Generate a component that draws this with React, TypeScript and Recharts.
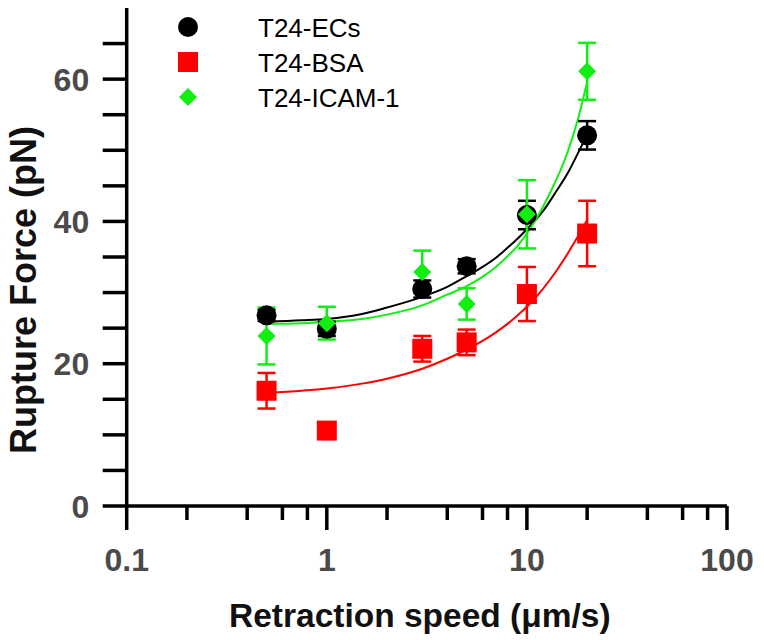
import React from 'react'
import {
  ComposedChart, Scatter, Line, XAxis, YAxis, ErrorBar, Legend,
} from 'recharts'

// ─── Datos ────────────────────────────────────────────────────────────────────

const SPEEDS = [0.5, 1, 3, 5, 10, 20]

const ECS_MEAN = [26.8, 24.9, 30.5, 33.7, 40.9, 52.1]
const ECS_ERR  = [0.8, 1.0, 1.2, 1.0, 2.0, 2.0]

const BSA_MEAN = [16.2, 10.6, 22.1, 23.0, 29.8, 38.3]
const BSA_ERR  = [2.5, 0.6, 1.8, 1.8, 3.8, 4.6]

const ICAM_MEAN = [23.9, 25.7, 32.9, 28.4, 41.0, 61.1]
const ICAM_ERR  = [4.0, 2.3, 3.0, 2.2, 4.8, 4.0]

// curvas de ajuste
const FIT_X    = [0.5, 0.75, 1, 1.5, 2, 3, 4, 5, 6, 7, 8, 9, 10, 12, 14, 16, 18, 20]
const FIT_ECS  = [25.9, 26.1, 26.3, 27.0, 27.9, 29.4, 30.8, 32.3, 33.6, 34.9, 36.3, 37.6, 38.9, 41.4, 44.2, 46.8, 49.6, 52.2]
const FIT_BSA  = [15.9, 16.2, 16.5, 17.2, 17.9, 19.3, 20.7, 22.0, 23.2, 24.4, 25.6, 26.8, 28.0, 30.5, 33.0, 35.5, 37.9, 40.2]
const FIT_ICAM = [25.6, 25.7, 25.9, 26.3, 26.9, 28.2, 29.7, 30.9, 32.2, 33.6, 35.1, 36.6, 38.3, 42.0, 45.8, 49.8, 54.4, 59.6]

const X_TICKS = [0.1, 0.2, 0.4, 0.6, 0.8, 1, 2, 4, 6, 8, 10, 20, 40, 60, 80, 100]
const X_MAJOR = [0.1, 1, 10, 100]
const Y_TICKS = [0, 5, 10, 15, 20, 25, 30, 35, 40, 45, 50, 55, 60, 65]
const Y_LABELS = [0, 20, 40, 60]

const SERIES = [
  { name: 'T24-ECs', color: '#000000', shape: 'circle' },
  { name: 'T24-BSA', color: '#ff0000', shape: 'square' },
  { name: 'T24-ICAM-1', color: '#11ee11', shape: 'diamond' },
]

const pts = (mean: number[], err: number[]) => SPEEDS.map((x, i) => ({ x, y: mean[i], err: err[i] }))
const fit = (ys: number[]) => FIT_X.map((x, i) => ({ x, y: ys[i] }))

const FONT = '"Liberation Sans", Arial, sans-serif'
const AXIS_W = 3.5

// ─── Marcadores ───────────────────────────────────────────────────────────────

function Marker({ cx, cy, shape, color }: { cx: number; cy: number; shape: string; color: string }) {
  if (shape === 'circle') return <circle cx={cx} cy={cy} r={10} fill={color} />
  if (shape === 'square') return <rect x={cx - 10} y={cy - 10} width={20} height={20} fill={color} />
  return <path d={`M${cx},${cy - 9}L${cx + 9},${cy}L${cx},${cy + 9}L${cx - 9},${cy}Z`} fill={color} />
}

// ─── Ticks ────────────────────────────────────────────────────────────────────

function XTick({ x, y, payload }: any) {
  const v = payload.value
  const major = X_MAJOR.includes(v)
  return (
    <g>
      <line x1={x} y1={y} x2={x} y2={y + (major ? 24 : 14)} stroke="#000" strokeWidth={AXIS_W} />
      {major && (
        <text x={x} y={y + 65} textAnchor="middle" fontFamily={FONT} fontWeight={700} fontSize={32} fill="#4a4a4a">
          {v}
        </text>
      )}
    </g>
  )
}

function YTick({ x, y, payload }: any) {
  const v = payload.value
  return (
    <g>
      <line x1={x - 24} y1={y} x2={x} y2={y} stroke="#000" strokeWidth={AXIS_W} />
      {Y_LABELS.includes(v) && (
        <text x={x - 37.5} y={y + 11.5} textAnchor="end" fontFamily={FONT} fontWeight={700} fontSize={32} fill="#4a4a4a">
          {v}
        </text>
      )}
    </g>
  )
}

function LegendBox() {
  return (
    <svg width={300} height={120}>
      {SERIES.map((s, i) => (
        <g key={s.name}>
          <Marker cx={28} cy={27 + i * 35} shape={s.shape} color={s.color} />
          <text x={98} y={27 + i * 35 + 9.5} fontFamily={FONT} fontSize={26} fill="#000">{s.name}</text>
        </g>
      ))}
    </svg>
  )
}

// ─── Componente ───────────────────────────────────────────────────────────────

export default function App() {
  const data = [pts(ECS_MEAN, ECS_ERR), pts(BSA_MEAN, BSA_ERR), pts(ICAM_MEAN, ICAM_ERR)]
  const fits = [fit(FIT_ECS), fit(FIT_BSA), fit(FIT_ICAM)]

  return (
    <div style={{ position: 'absolute', left: 0, top: 0, background: '#fff' }}>
      <ComposedChart width={764} height={640} margin={{ top: 8, right: 37, bottom: 0, left: 0 }}>
        <XAxis
          dataKey="x"
          type="number"
          scale="log"
          domain={[0.1, 100]}
          ticks={X_TICKS}
          interval={0}
          allowDataOverflow
          height={134}
          tickSize={0}
          tickMargin={0}
          tickLine={false}
          axisLine={{ stroke: '#000', strokeWidth: AXIS_W }}
          tick={<XTick />}
          label={{
            content: ({ viewBox }: any) => (
              <text
                x={viewBox.x + viewBox.width / 2 - 7}
                y={viewBox.y + 121}
                textAnchor="middle"
                fontFamily={FONT}
                fontWeight={700}
                fontSize={33.5}
                fill="#111"
              >
                Retraction speed (μm/s)
              </text>
            ),
          }}
        />
        <YAxis
          type="number"
          domain={[0, 70]}
          ticks={Y_TICKS}
          interval={0}
          width={126.7}
          tickSize={0}
          tickMargin={0}
          tickLine={false}
          axisLine={{ stroke: '#000', strokeWidth: AXIS_W }}
          tick={<YTick />}
          label={{
            content: () => (
              <text
                x={0}
                y={0}
                transform="translate(36, 290) rotate(-90)"
                textAnchor="middle"
                fontFamily={FONT}
                fontWeight={700}
                fontSize={36}
                fill="#111"
              >
                Rupture Force (pN)
              </text>
            ),
          }}
        />
        {fits.map((f, i) => (
          <Line
            key={'fit' + i}
            data={f}
            dataKey="y"
            type="monotone"
            stroke={SERIES[i].color}
            strokeWidth={2}
            dot={false}
            activeDot={false}
            legendType="none"
            isAnimationActive={false}
          />
        ))}
        {data.map((d, i) => (
          <Scatter
            key={SERIES[i].name}
            name={SERIES[i].name}
            data={d}
            dataKey="y"
            fill={SERIES[i].color}
            isAnimationActive={false}
            shape={(p: any) => <Marker cx={p.cx} cy={p.cy} shape={SERIES[i].shape} color={SERIES[i].color} />}
          >
            <ErrorBar dataKey="err" direction="y" width={9} stroke={SERIES[i].color} strokeWidth={2.5} isAnimationActive={false} />
          </Scatter>
        ))}
        <Legend
          layout="vertical"
          align="center"
          verticalAlign="middle"
          wrapperStyle={{ top: 0, left: 160, width: 300 }}
          content={() => <LegendBox />}
        />
      </ComposedChart>
    </div>
  )
}
